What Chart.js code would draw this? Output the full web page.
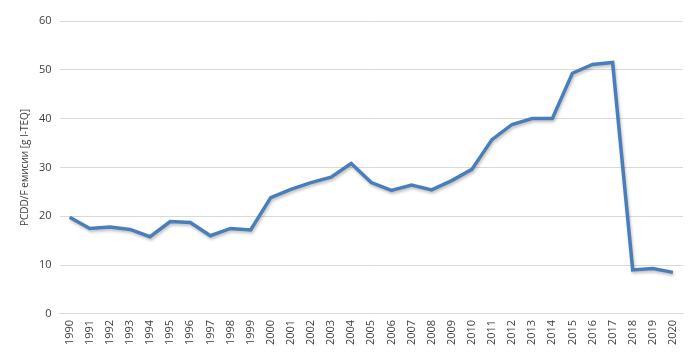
<!DOCTYPE html>
<html>
<head>
<meta charset="utf-8">
<script src="https://cdn.jsdelivr.net/npm/chart.js@4"></script>
<style>
  body { margin: 0; background: #fff; }
  #wrap { width: 700px; height: 359px; }
</style>
</head>
<body>
<div id="wrap"><canvas id="myChart"></canvas></div>
<script>
const years = ['1990', '1991', '1992', '1993', '1994', '1995', '1996', '1997', '1998', '1999',
  '2000', '2001', '2002', '2003', '2004', '2005', '2006', '2007', '2008', '2009',
  '2010', '2011', '2012', '2013', '2014', '2015', '2016', '2017', '2018', '2019', '2020'];
const emissions = [19.8, 17.5, 17.8, 17.3, 15.8, 18.9, 18.7, 16.0, 17.5, 17.2,
  23.8, 25.5, 26.9, 28.0, 30.8, 26.9, 25.3, 26.4, 25.4, 27.3,
  29.6, 35.7, 38.8, 40.0, 40.0, 49.3, 51.1, 51.5, 9.0, 9.3, 8.5];
const yTitle = 'PCDD/F емисии [g I-TEQ]';

const shadow = {
  id: 'shadow',
  beforeDatasetDraw(chart) {
    const ctx = chart.ctx;
    ctx.save();
    ctx.shadowColor = 'rgba(0,0,0,0.25)';
    ctx.shadowBlur = 3;
    ctx.shadowOffsetX = 1;
    ctx.shadowOffsetY = 2;
  },
  afterDatasetDraw(chart) {
    chart.ctx.restore();
  }
};

const chart = new Chart(document.getElementById('myChart'), {
  type: 'line',
  data: {
    labels: years,
    datasets: [{
      data: emissions,
      borderColor: '#4a7ebb',
      borderWidth: 3.5,
      pointRadius: 0,
      tension: 0,
      fill: false
    }]
  },
  options: {
    responsive: true,
    maintainAspectRatio: false,
    animation: false,
    layout: { padding: { top: 21, right: 17, left: 19, bottom: 8 } },
    plugins: {
      legend: { display: false },
      tooltip: { enabled: false }
    },
    scales: {
      x: {
        offset: true,
        grid: { display: false, drawTicks: false },
        border: { color: '#d9d9d9' },
        ticks: {
          color: '#404040',
          font: { family: 'Open Sans', size: 11 },
          minRotation: 90,
          maxRotation: 90,
          padding: 6,
          autoSkip: false
        }
      },
      y: {
        min: 0,
        max: 60,
        grid: { color: '#d9d9d9', drawTicks: false },
        border: { display: false },
        ticks: {
          stepSize: 10,
          color: '#404040',
          font: { family: 'Open Sans', size: 11 },
          padding: 8
        },
        title: {
          display: true,
          text: yTitle,
          color: '#404040',
          font: { family: 'Open Sans', size: 10 },
          padding: 0
        }
      }
    }
  },
  plugins: [shadow]
});
</script>
</body>
</html>
